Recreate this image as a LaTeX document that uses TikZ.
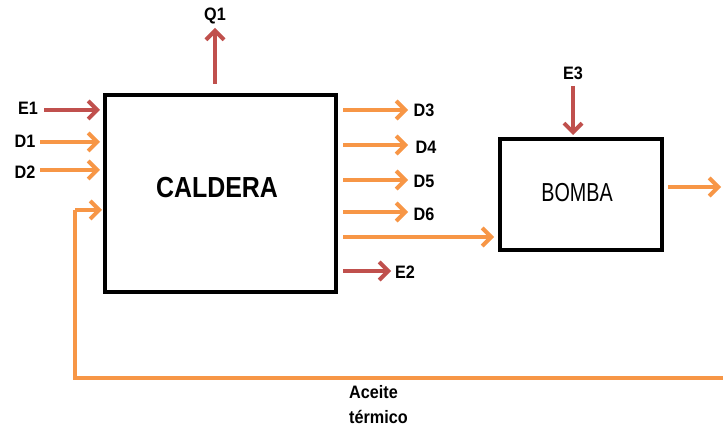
\documentclass[tikz,border=0pt]{standalone}
\usepackage{fontspec}
\setmainfont{Liberation Sans}
\newfontfamily\calfont{Liberation Sans}[FakeStretch=0.86]
\newfontfamily\bomfont{Liberation Sans}[FakeStretch=0.76]
\newfontfamily\labfont{Liberation Sans}[FakeStretch=0.9]
\usetikzlibrary{arrows.meta}
\definecolor{org}{RGB}{247,150,70}
\definecolor{rd}{RGB}{192,80,77}
\begin{document}
\begin{tikzpicture}[x=1pt,y=-1pt,
  blockbox/.style={draw=black,line width=4pt,rectangle,inner sep=0pt},
  oarrow/.style={draw=org,line width=4pt,-{Straight Barb[length=9pt,width=18pt,line width=4pt]}},
  rarrow/.style={draw=rd,line width=4pt,-{Straight Barb[length=9pt,width=18pt,line width=4pt]}},
  lab/.style={font=\labfont\bfseries\fontsize{18}{21}\selectfont,inner sep=0pt}]
\useasboundingbox (0,0) rectangle (723,430);
% blocks
\node[blockbox,minimum width=231pt,minimum height=197pt] (cal) at (220.5,193.5) {};
\node[font=\calfont\bfseries\fontsize{29}{32}\selectfont] (caltxt) at (217,188) {CALDERA};
\node[blockbox,minimum width=162pt,minimum height=111pt] (bom) at (581,194.5) {};
\node[font=\bomfont\fontsize{26}{30}\selectfont] (bomtxt) at (577,193) {BOMBA};
% free-end coordinates
\coordinate (q1s) at (215,84);
\coordinate (q1e) at (215,28);
\coordinate (e1s) at (44,110);
\coordinate (e1e) at (100,110);
\coordinate (d1s) at (40,142);
\coordinate (d1e) at (100,142);
\coordinate (d2s) at (40,170);
\coordinate (d2e) at (100,170);
\coordinate (fbr) at (723,378);
\coordinate (fbc) at (75,378);
\coordinate (fbu) at (75,210);
\coordinate (fbe) at (102,210);
\coordinate (d3s) at (343,110);
\coordinate (d3e) at (408,110);
\coordinate (d4s) at (343,145);
\coordinate (d4e) at (408,145);
\coordinate (d5s) at (343,180);
\coordinate (d5e) at (408,180);
\coordinate (d6s) at (343,212);
\coordinate (d6e) at (408,212);
\coordinate (bs) at (343,237);
\coordinate (be) at (494,237);
\coordinate (e2s) at (343,271);
\coordinate (e2e) at (391,271);
\coordinate (e3s) at (573,86);
\coordinate (e3e) at (573,135);
\coordinate (outs) at (668,187);
\coordinate (oute) at (721,187);
% arrows
\draw[rarrow] (q1s) -- (q1e);
\draw[rarrow] (e1s) -- (e1e);
\draw[oarrow] (d1s) -- (d1e);
\draw[oarrow] (d2s) -- (d2e);
\draw[draw=org,line width=3.5pt] (fbr) -- (fbc) -- (fbu);
\draw[oarrow] (fbu) -- (fbe);
\draw[oarrow] (d3s) -- (d3e);
\draw[oarrow] (d4s) -- (d4e);
\draw[oarrow] (d5s) -- (d5e);
\draw[oarrow] (d6s) -- (d6e);
\draw[oarrow] (bs) -- (be);
\draw[rarrow] (e2s) -- (e2e);
\draw[rarrow] (e3s) -- (e3e);
\draw[oarrow] (outs) -- (oute);
% labels
\node[lab] (lq1) at (215,16) {Q1};
\node[lab] (le1) at (28,108) {E1};
\node[lab] (ld1) at (25,141) {D1};
\node[lab] (ld2) at (25,172) {D2};
\node[lab] (ld3) at (424,110) {D3};
\node[lab] (ld4) at (426,147) {D4};
\node[lab] (ld5) at (424,181) {D5};
\node[lab] (ld6) at (424,214) {D6};
\node[lab] (le2) at (405,272) {E2};
\node[lab] (le3) at (573,73) {E3};
\node[lab,anchor=west] (lace1) at (349,392) {Aceite};
\node[lab,anchor=west] (lace2) at (349,417) {térmico};
\end{tikzpicture}
\end{document}
